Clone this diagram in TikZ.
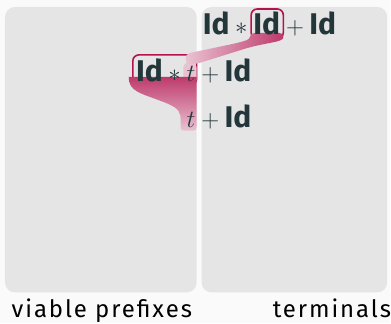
\documentclass[tikz,border=0pt]{standalone}
\usepackage{fontspec}
\setmainfont{Fira Sans}
\usepackage{xcolor}
\usetikzlibrary{positioning}

\definecolor{mDark}{HTML}{23373B}
\definecolor{panelgray}{HTML}{E5E5E5}
\definecolor{bggray}{HTML}{FAFAFA}
\definecolor{hl}{HTML}{B3124F}
\definecolor{hltop}{HTML}{BE3A6A}
\definecolor{hlbot}{HTML}{E9C2D2}

\pgfdeclarelayer{back}
\pgfdeclarelayer{marks}
\pgfsetlayers{back,marks,main}

\begin{document}
\begin{tikzpicture}[x=1pt, y=-1pt,
    sym/.style = {inner sep=0pt, text=mDark, font=\fontsize{30}{34}\selectfont},
    lbl/.style = {inner sep=0pt, text=black, font=\fontsize{24}{28}\selectfont\addfontfeature{LetterSpace=8}},
    panelbox/.style = {fill=panelgray, rounded corners=10pt},
    hlbox/.style = {draw=hl, line width=1.6pt, rounded corners=6pt},
    tmark/.style = {fill=hlbot, rounded corners=5pt}]

    \begin{pgfonlayer}{back}
        \fill[bggray] (0,0) rectangle (391,324);
        \fill[panelbox] (5,7) rectangle (197,293);
        \fill[panelbox] (202,7) rectangle (388,293);
    \end{pgfonlayer}

    % rows of the derivation
    \node[sym, anchor=base west] (r1a) at (203,35) {$\textbf{Id}*{}$};
    \node[sym, base right=0pt of r1a] (r1id) {\textbf{Id}};
    \node[sym, base right=0pt of r1id] (r1b) {${}+\textbf{Id}$};

    \node[sym, anchor=base east] (r2t) at (196,82) {$t$};
    \node[sym, base left=0pt of r2t] (r2a) {$\textbf{Id}*{}$};
    \node[sym, base right=0pt of r2t] (r2b) {${}+\textbf{Id}$};

    \node[sym, anchor=base east] (r3t) at (196,128) {$t$};
    \node[sym, base right=0pt of r3t] (r3b) {${}+\textbf{Id}$};

    \begin{pgfonlayer}{marks}
        % handles
        \draw[hlbox] ([xshift=-2pt,yshift=3pt]r1id.north west) rectangle ([xshift=3pt,yshift=-3pt]r1id.south east);
        \draw[hlbox] ([xshift=-3pt,yshift=4pt]r2a.north west) rectangle ([xshift=1pt,yshift=-3pt]r2t.south east);

        % funnels from the handles
        \fill[tmark] ([xshift=-3pt,yshift=4pt]r2t.north west) rectangle ([xshift=1pt,yshift=-2pt]r2t.south east);
        \shade[left color=hlbot, right color=hltop, rounded corners=4pt]
            (251,33) .. controls (250,40) and (245,41) .. (238,43) -- (186,54)
            -- (186,64) -- (197,64) -- (248,48) .. controls (272,42) and (284,42) .. (284,33) -- cycle;
        \shade[top color=hltop, bottom color=hlbot]
            (129,77) .. controls (129,92) and (140,93) .. (166,103)
            .. controls (180,109) and (181,112) .. (181,122) -- (181,127)
            .. controls (181,131) and (183,131) .. (186,131) -- (193,131)
            .. controls (196,131) and (197,130) .. (197,127) -- (197,77) -- cycle;
    \end{pgfonlayer}

    \node[lbl, anchor=base] (vp) at (102,318) {viable prefixes};
    \node[lbl, anchor=base east] (term) at (392,318) {terminals};
\end{tikzpicture}
\end{document}
